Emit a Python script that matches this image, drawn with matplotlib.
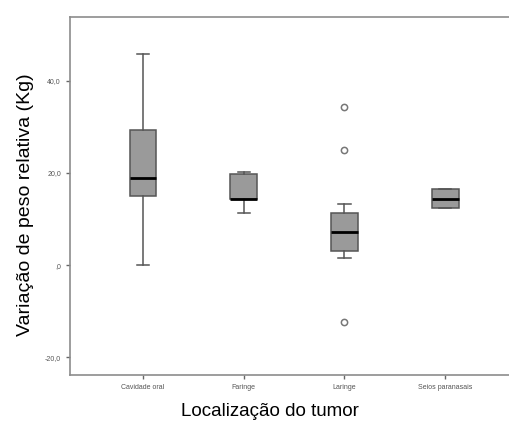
import matplotlib
matplotlib.use("Agg")
import matplotlib.pyplot as plt

plt.rcParams['font.family'] = ['Liberation Sans', 'DejaVu Sans']

# dados
categorias = ['Cavidade oral', 'Faringe', 'Laringe', 'Seios paranasais']
whis_baixo = [0.0, 11.3, 1.5, 12.4]
q1 = [15.0, 14.3, 3.0, 12.4]
mediana = [18.9, 14.3, 7.2, 14.3]
q3 = [29.3, 19.8, 11.3, 16.5]
whis_alto = [45.9, 20.2, 13.3, 16.5]
outliers = [[], [], [34.3, 25.0, -12.4], []]

stats = []
for i, nome in enumerate(categorias):
    stats.append(dict(label=nome, whislo=whis_baixo[i], q1=q1[i], med=mediana[i],
                      q3=q3[i], whishi=whis_alto[i], fliers=outliers[i]))

fig = plt.figure(figsize=(5.09, 4.22), dpi=100)
ax = fig.add_axes([0.1375, 0.111, 0.8625, 0.849])

cinza = '#555555'
ax.bxp(stats, positions=range(4), widths=0.26, patch_artist=True,
       boxprops=dict(facecolor='#9a9a9a', edgecolor=cinza, linewidth=1.1),
       medianprops=dict(color='black', linewidth=2),
       whiskerprops=dict(color=cinza, linewidth=1.1),
       capprops=dict(color=cinza, linewidth=1.1),
       capwidths=0.12,
       flierprops=dict(marker='o', markerfacecolor='white', markeredgecolor='#777777',
                       markersize=4.5, markeredgewidth=1.1))

ax.set_xlim(-0.72, 3.63)
ax.set_ylim(-23.9, 53.9)
ax.set_yticks([-20, 0, 20, 40])
ax.set_yticklabels(['-20,0', ',0', '20,0', '40,0'])
ax.set_xticks(range(4))
ax.set_xticklabels(categorias)
ax.tick_params(labelsize=5, colors='#666666', labelcolor='#555555', length=3, width=1)

for lado in ['left', 'bottom', 'top']:
    ax.spines[lado].set_color('#8c8c8c')
    ax.spines[lado].set_linewidth(1.2)
ax.spines['right'].set_visible(False)

ax.set_ylabel('Variação de peso relativa (Kg)', fontsize=14)
ax.yaxis.set_label_coords(-0.083, 0.475)
ax.set_xlabel('Localização do tumor', fontsize=13.5)
ax.xaxis.set_label_coords(0.456, -0.078)

fig.savefig('out.png', dpi=100)
